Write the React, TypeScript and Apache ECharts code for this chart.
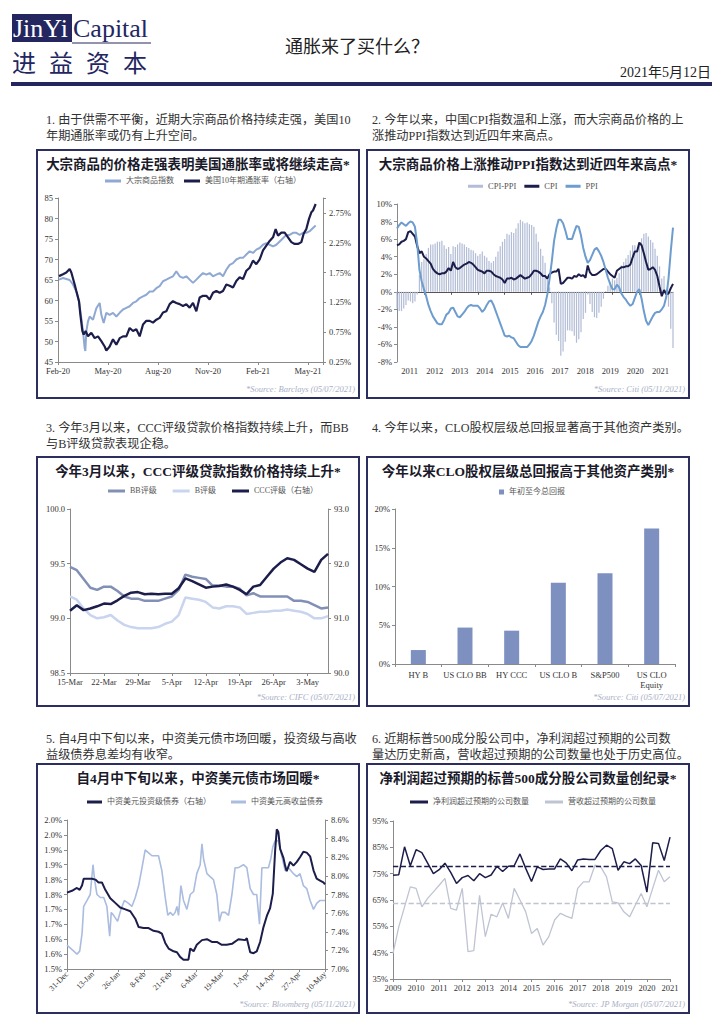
import React, { useEffect, useRef } from 'react';
import * as echarts from 'echarts';

const SERIF = '"Liberation Serif", "Noto Sans CJK SC", serif';
const NAVY = '#23265f';
const DARK = '#1c1d4a';
const AXIS = '#8a8a8a';

// ---------- Chart 1: commodity index vs US 10y breakeven ----------
const c1Ticks = ['Feb-20', 'May-20', 'Aug-20', 'Nov-20', 'Feb-21', 'May-21'];
// [months since Feb-2020, value]
const commodityIndex: [number, number][] = [
  [0.06, 65.1], [0.3, 65.5], [0.7, 65.0], [0.9, 63.9], [1.1, 62.2], [1.26, 59.8], [1.4, 55.7], [1.5, 52.5], [1.6, 48.4], [1.64, 47.7],
  [1.7, 52.5], [1.8, 54.9], [1.9, 56.1], [2.1, 55.3], [2.3, 58.1], [2.5, 59.4], [2.6, 56.5], [2.74, 54.5], [2.9, 57.0], [3.1, 56.5],
  [3.3, 57.0], [3.5, 56.1], [3.7, 57.0], [3.9, 57.8], [4.1, 58.2], [4.3, 58.6], [4.5, 59.4], [4.7, 59.8], [4.9, 60.6], [5.1, 61.0],
  [5.3, 61.4], [5.5, 62.2], [5.7, 62.2], [5.9, 63.0], [6.1, 63.5], [6.3, 64.7], [6.5, 65.1], [6.7, 65.5], [6.9, 65.9], [7.1, 67.1],
  [7.3, 65.9], [7.5, 65.5], [7.7, 65.9], [7.9, 65.1], [8.1, 64.3], [8.3, 65.1], [8.5, 65.9], [8.7, 66.7], [8.9, 66.3], [9.1, 66.7],
  [9.3, 65.9], [9.5, 66.3], [9.7, 66.7], [9.9, 65.9], [10.1, 67.5], [10.3, 68.7], [10.5, 69.1], [10.7, 70.0], [10.9, 70.4], [11.1, 70.4],
  [11.3, 71.2], [11.5, 72.0], [11.7, 71.6], [11.9, 72.4], [12.1, 72.8], [12.3, 73.6], [12.5, 74.0], [12.7, 73.6], [12.9, 73.2], [13.1, 73.6],
  [13.3, 74.4], [13.5, 75.2], [13.7, 76.0], [13.9, 76.0], [14.1, 76.5], [14.3, 76.5], [14.5, 76.0], [14.7, 76.5], [14.9, 76.5], [15.1, 76.9],
  [15.3, 77.7], [15.46, 78.3],
];
const breakeven10y: [number, number][] = [
  [0.06, 1.69], [0.3, 1.72], [0.5, 1.75], [0.7, 1.81], [0.8, 1.75], [1.0, 1.55], [1.1, 1.44], [1.26, 1.27], [1.34, 1.05], [1.46, 0.77],
  [1.54, 0.71], [1.66, 0.77], [1.8, 0.68], [2.0, 0.74], [2.2, 0.65], [2.4, 0.68], [2.6, 0.60], [2.8, 0.51], [2.9, 0.44], [3.1, 0.51],
  [3.3, 0.63], [3.5, 0.54], [3.7, 0.65], [3.9, 0.68], [4.1, 0.68], [4.3, 0.82], [4.5, 0.77], [4.7, 0.80], [4.9, 0.68], [5.1, 0.88],
  [5.3, 0.94], [5.5, 0.94], [5.7, 0.91], [5.9, 0.96], [6.1, 0.99], [6.3, 1.08], [6.5, 1.10], [6.7, 1.22], [6.9, 1.27], [7.1, 1.24],
  [7.3, 1.22], [7.5, 1.19], [7.7, 1.22], [7.9, 1.16], [8.1, 1.24], [8.3, 1.10], [8.5, 1.33], [8.7, 1.36], [8.9, 1.36], [9.1, 1.30],
  [9.3, 1.41], [9.5, 1.44], [9.7, 1.41], [9.9, 1.44], [10.1, 1.55], [10.3, 1.53], [10.5, 1.50], [10.7, 1.61], [10.9, 1.67], [11.1, 1.64],
  [11.3, 1.78], [11.5, 1.83], [11.7, 1.95], [11.9, 1.89], [12.1, 1.97], [12.3, 2.12], [12.5, 2.20], [12.7, 2.28], [12.9, 2.34], [13.06, 2.48],
  [13.2, 2.37], [13.4, 2.42], [13.6, 2.42], [13.8, 2.34], [14.0, 2.26], [14.2, 2.23], [14.4, 2.23], [14.6, 2.26], [14.74, 2.40], [14.9, 2.48],
  [15.06, 2.65], [15.2, 2.76], [15.3, 2.79], [15.46, 2.90],
];

// ---------- Chart 2: China CPI / PPI (Jan-2011 .. Apr-2021) ----------
const c2Years = ['2011', '2012', '2013', '2014', '2015', '2016', '2017', '2018', '2019', '2020', '2021'];
const cpi = [
  5.3, 5.4, 5.7, 5.8, 6.0, 6.8, 6.9, 6.6, 6.3, 5.2, 4.4, 4.6,
  4.0, 3.8, 3.5, 3.2, 2.6, 2.3, 2.1, 2.0, 2.1, 2.1, 2.3, 2.7,
  2.4, 3.4, 2.8, 2.6, 2.7, 2.9, 3.1, 3.2, 3.4, 3.3, 3.1, 2.8,
  2.5, 2.4, 2.3, 2.1, 2.4, 2.4, 2.3, 2.0, 1.8, 1.7, 1.6, 1.4,
  1.0, 1.5, 1.5, 1.6, 1.4, 1.5, 1.7, 1.9, 1.7, 1.5, 1.6, 1.7,
  2.0, 2.4, 2.4, 2.3, 2.1, 1.8, 1.8, 1.5, 2.0, 2.2, 2.3, 2.3,
  2.6, 0.9, 1.0, 1.3, 1.6, 1.6, 1.5, 1.8, 1.7, 2.0, 1.8, 1.9,
  1.6, 3.0, 2.2, 1.9, 1.9, 2.0, 2.2, 2.4, 2.6, 2.6, 2.3, 2.0,
  1.8, 1.6, 2.4, 2.6, 2.8, 2.8, 2.9, 2.9, 3.1, 3.9, 4.6, 4.6,
  5.6, 5.3, 4.4, 3.4, 2.5, 2.6, 2.8, 2.5, 1.8, 0.6, -0.5, 0.2,
  -0.3, -0.2, 0.4, 0.9,
];
const ppi = [
  7.2, 7.6, 7.9, 7.7, 7.5, 7.8, 8.0, 7.9, 7.4, 5.5, 2.5, 1.2,
  0.3, -0.5, -1.5, -2.2, -2.8, -3.2, -3.6, -3.7, -3.7, -3.2, -2.6, -2.4,
  -1.9, -1.8, -2.3, -2.8, -2.9, -2.6, -2.3, -1.9, -1.6, -1.5, -1.6, -1.6,
  -1.6, -1.9, -2.3, -2.0, -1.5, -1.1, -1.0, -1.5, -2.2, -2.9, -3.6, -4.3,
  -5.0, -5.1, -5.0, -5.2, -5.3, -5.7, -6.1, -6.3, -6.3, -6.3, -6.3, -6.0,
  -5.6, -5.0, -4.2, -3.4, -2.8, -2.3, -1.5, -0.3, 1.5, 3.5, 5.8, 7.2,
  8.2, 8.2, 7.8, 7.0, 6.0, 6.0, 6.0, 6.8, 7.5, 7.4, 6.4, 5.0,
  4.0, 3.3, 3.6, 4.2, 4.8, 5.0, 4.6, 4.1, 3.4, 2.5, 1.6, 0.9,
  0.3, 0.3, 0.8, 0.5, -0.2, -0.6, -0.9, -1.3, -1.6, -1.4, -0.7, 0.0,
  0.3, -0.8, -2.2, -3.3, -3.8, -3.3, -2.8, -2.4, -2.3, -2.3, -2.0, -1.6,
  -0.6, 1.5, 4.6, 7.3,
];

// ---------- Chart 3: loan price indices ----------
const c3Dates = [
  '15-Mar', '16-Mar', '17-Mar', '18-Mar', '19-Mar', '22-Mar', '23-Mar', '24-Mar', '25-Mar', '26-Mar',
  '29-Mar', '30-Mar', '31-Mar', '1-Apr', '2-Apr', '5-Apr', '6-Apr', '7-Apr', '8-Apr', '9-Apr',
  '12-Apr', '13-Apr', '14-Apr', '15-Apr', '16-Apr', '19-Apr', '20-Apr', '21-Apr', '22-Apr', '23-Apr',
  '26-Apr', '27-Apr', '28-Apr', '29-Apr', '30-Apr', '3-May', '4-May', '5-May', '6-May',
];
const bbLoans = [
  99.47, 99.44, 99.36, 99.28, 99.26, 99.29, 99.29, 99.25, 99.20, 99.18,
  99.18, 99.16, 99.16, 99.16, 99.18, 99.20, 99.26, 99.40, 99.38, 99.37,
  99.36, 99.30, 99.30, 99.29, 99.29, 99.27, 99.21, 99.23, 99.20, 99.20,
  99.20, 99.20, 99.20, 99.16, 99.16, 99.15, 99.12, 99.09, 99.10,
];
const bLoans = [
  99.20, 99.17, 99.09, 99.03, 99.00, 99.01, 99.03, 98.98, 98.94, 98.92,
  98.91, 98.91, 98.91, 98.92, 98.95, 98.97, 99.03, 99.19, 99.18, 99.17,
  99.15, 99.10, 99.09, 99.11, 99.11, 99.10, 99.04, 99.05, 99.06, 99.06,
  99.07, 99.07, 99.08, 99.07, 99.06, 99.04, 99.00, 99.00, 99.02,
];
const cccLoans = [
  91.14, 91.24, 91.15, 91.18, 91.22, 91.27, 91.26, 91.33, 91.41, 91.47,
  91.48, 91.44, 91.45, 91.44, 91.45, 91.45, 91.55, 91.73, 91.68, 91.62,
  91.56, 91.58, 91.59, 91.62, 91.58, 91.52, 91.44, 91.58, 91.61, 91.76,
  91.91, 92.02, 92.10, 92.07, 91.99, 91.91, 91.85, 92.07, 92.18,
];

// ---------- Chart 4: YTD total returns ----------
const c4Assets = ['HY B', 'US CLO BB', 'HY CCC', 'US CLO B', 'S&P500', 'US CLO\nEquity'];
const c4Returns = [1.8, 4.7, 4.3, 10.5, 11.7, 17.5];

// ---------- Chart 5: China USD bonds ----------
const c5Ticks = ['31-Dec', '13-Jan', '26-Jan', '8-Feb', '21-Feb', '6-Mar', '19-Mar', '1-Apr', '14-Apr', '27-Apr', '10-May'];
const c5LeftTicks = ['1.5%', '1.6%', '1.6%', '1.7%', '1.7%', '1.8%', '1.8%', '1.9%', '1.9%', '2.0%', '2.0%'];
// [days since 31-Dec-2020, value]
const igBonds: [number, number][] = [
  [0, 7.82], [2.5, 7.84], [5.0, 7.87], [6.4, 7.85], [7.6, 7.90], [8.4, 7.97], [10.1, 7.97], [12.6, 7.97], [14.3, 7.96], [15.9, 7.93],
  [17.6, 7.93], [19.3, 7.85], [21.8, 7.76], [24.3, 7.71], [26.8, 7.66], [29.4, 7.64], [31.9, 7.62], [34.4, 7.54], [36.1, 7.45], [38.6, 7.44],
  [41.1, 7.44], [43.6, 7.41], [46.1, 7.40], [47.8, 7.38], [49.5, 7.28], [51.2, 7.22], [53.7, 7.19], [55.4, 7.18], [57.0, 7.13], [58.7, 7.10],
  [61.2, 7.10], [62.1, 7.22], [63.8, 7.19], [65.4, 7.26], [68.0, 7.31], [70.5, 7.32], [73.0, 7.29], [75.5, 7.29], [78.0, 7.26], [80.5, 7.26],
  [83.1, 7.27], [86.4, 7.32], [89.8, 7.31], [90.6, 7.33], [92.3, 7.18], [94.0, 7.17], [95.6, 7.19], [97.3, 7.29], [99.0, 7.45], [100.7, 7.57],
  [102.3, 7.65], [103.7, 7.81], [104.9, 8.28], [105.7, 8.50], [106.5, 8.47], [107.4, 8.29], [109.1, 8.19], [109.9, 8.11], [110.7, 8.05], [112.4, 8.15],
  [114.1, 8.11], [115.8, 8.15], [117.4, 8.20], [119.1, 8.26], [120.8, 8.25], [122.5, 8.21], [124.2, 8.06], [125.8, 7.97], [127.5, 7.95], [129.2, 7.93],
  [130, 7.91],
];
const hyBonds: [number, number][] = [
  [0, 1.58], [1.7, 1.57], [3.4, 1.56], [5.0, 1.55], [6.4, 1.56], [7.6, 1.62], [8.4, 1.71], [10.1, 1.73], [11.7, 1.75], [13.1, 1.85],
  [13.9, 1.80], [15.1, 1.75], [16.8, 1.74], [18.5, 1.74], [20.1, 1.71], [21.5, 1.61], [22.3, 1.69], [23.5, 1.68], [25.5, 1.66], [27.2, 1.70],
  [28.9, 1.73], [31.0, 1.72], [32.7, 1.71], [34.4, 1.74], [36.1, 1.78], [37.8, 1.84], [39.4, 1.90], [41.1, 1.89], [42.8, 1.88], [44.5, 1.88],
  [46.1, 1.88], [47.8, 1.83], [49.5, 1.74], [50.8, 1.68], [52.0, 1.69], [53.4, 1.68], [54.5, 1.69], [55.4, 1.71], [56.2, 1.68], [57.4, 1.78],
  [58.7, 1.73], [60.4, 1.70], [62.1, 1.75], [63.8, 1.76], [65.4, 1.82], [67.1, 1.85], [68.0, 1.92], [68.8, 1.87], [70.5, 1.82], [72.1, 1.81],
  [73.8, 1.80], [75.5, 1.75], [76.8, 1.66], [78.0, 1.69], [79.7, 1.69], [81.4, 1.68], [83.1, 1.75], [84.7, 1.84], [86.4, 1.84], [88.9, 1.85],
  [90.6, 1.84], [92.3, 1.77], [94.0, 1.75], [95.6, 1.75], [97.0, 1.65], [98.2, 1.84], [99.8, 1.84], [101.5, 1.84], [102.7, 1.87], [103.7, 1.91],
  [104.9, 1.93], [106.5, 1.93], [108.2, 1.88], [109.9, 1.83], [111.6, 1.84], [114.1, 1.82], [115.8, 1.81], [117.4, 1.82], [119.1, 1.78], [120.8, 1.77],
  [122.5, 1.73], [124.2, 1.70], [125.8, 1.72], [127.5, 1.73], [130, 1.73],
];

// ---------- Chart 6: S&P 500 beats (quarterly 2009Q1 .. 2021Q1) ----------
const c6Years = ['2009', '2010', '2011', '2012', '2013', '2014', '2015', '2016', '2017', '2018', '2019', '2020', '2021'];
const earningsBeat = [
  74.4, 74.6, 85.2, 78.0, 84.1, 83.0, 79.0, 75.0, 76.5, 79.0,
  75.5, 71.3, 73.5, 74.3, 72.3, 75.0, 73.5, 74.5, 77.8, 75.8,
  77.8, 78.0, 82.5, 77.0, 72.0, 77.6, 76.6, 76.8, 76.8, 80.6,
  79.1, 76.1, 80.2, 80.6, 80.4, 80.4, 83.8, 85.8, 84.5, 76.3,
  79.5, 78.8, 80.6, 78.1, 68.0, 86.7, 86.5, 80.0, 88.9,
];
const revenueBeat = [
  44.7, 54.8, 62.4, 70.0, 69.4, 62.4, 65.6, 68.1, 70.6, 73.2,
  61.8, 61.2, 69.4, 45.4, 45.8, 66.8, 51.1, 59.6, 58.6, 63.9,
  58.0, 69.4, 65.0, 60.5, 52.3, 54.2, 47.9, 51.1, 57.4, 59.9,
  58.9, 58.0, 69.4, 71.9, 71.9, 78.2, 77.6, 73.8, 64.3, 63.9,
  60.5, 58.6, 63.1, 67.5, 62.4, 69.4, 76.3, 71.9, 73.8,
];
const beatAverages = [77.8, 63.9];

// ---------- page texts ----------
const paragraphs: { x: number; y: number; lines: string[] }[] = [
  { x: 46, y: 120, lines: ['1. 由于供需不平衡，近期大宗商品价格持续走强，美国10', '年期通胀率或仍有上升空间。'] },
  { x: 372, y: 120, lines: ['2. 今年以来，中国CPI指数温和上涨，而大宗商品价格的上', '涨推动PPI指数达到近四年来高点。'] },
  { x: 46, y: 428, lines: ['3. 今年3月以来，CCC评级贷款价格指数持续上升，而BB', '与B评级贷款表现企稳。'] },
  { x: 372, y: 428, lines: ['4. 今年以来，CLO股权层级总回报显著高于其他资产类别。'] },
  { x: 46, y: 739, lines: ['5. 自4月中下旬以来，中资美元债市场回暖，投资级与高收', '益级债券息差均有收窄。'] },
  { x: 372, y: 739, lines: ['6. 近期标普500成分股公司中，净利润超过预期的公司数', '量达历史新高，营收超过预期的公司数量也处于历史高位。'] },
];
const boxes = [
  { x: 37, y: 150, w: 322, h: 248, title: '大宗商品的价格走强表明美国通胀率或将继续走高*', source: '*Source: Barclays (05/07/2021)' },
  { x: 367, y: 150, w: 322, h: 248, title: '大宗商品价格上涨推动PPI指数达到近四年来高点*', source: '*Source: Citi (05/11/2021)' },
  { x: 37, y: 457, w: 322, h: 249, title: '今年3月以来，CCC评级贷款指数价格持续上升*', source: '*Source: CIFC (05/07/2021)' },
  { x: 367, y: 457, w: 322, h: 249, title: '今年以来CLO股权层级总回报高于其他资产类别*', source: '*Source: Citi (05/07/2021)' },
  { x: 37, y: 764, w: 322, h: 249, title: '自4月中下旬以来，中资美元债市场回暖*', source: '*Source: Bloomberg (05/11/2021)' },
  { x: 367, y: 764, w: 322, h: 249, title: '净利润超过预期的标普500成分股公司数量创纪录*', source: '*Source: JP Morgan (05/07/2021)' },
];

function txt(x: number, y: number, text: string, o: any = {}) {
  return {
    type: 'text',
    x,
    y,
    silent: true,
    style: {
      text,
      fontSize: o.size ?? 12,
      fontFamily: o.family ?? SERIF,
      fontWeight: o.weight ?? 'normal',
      fontStyle: o.style ?? 'normal',
      fill: o.fill ?? '#333',
      align: o.align ?? 'left',
      verticalAlign: 'middle',
      textAlign: o.align ?? 'left',
      textVerticalAlign: 'middle',
    },
  };
}

const axisLine = { show: true, lineStyle: { color: AXIS, width: 1 } };
const axisTick = { show: true, length: 3, lineStyle: { color: AXIS } };
const lbl = (extra: any = {}) => ({ color: '#333', fontSize: 8.5, fontFamily: SERIF, ...extra });
const legendText = { fontSize: 8, color: '#555', fontFamily: SERIF };

function buildOption() {
  const months: string[] = [];
  c2Years.forEach((y) => {
    for (let m = 1; m <= 12; m++) months.push(`${y}-${m}`);
  });
  const monthCats = months.slice(0, cpi.length);
  const spread = cpi.map((v, i) => Math.round((v - ppi[i]) * 10) / 10);
  const quarters: string[] = [];
  c6Years.forEach((y) => {
    for (let q = 1; q <= 4; q++) quarters.push(`${y}Q${q}`);
  });
  const quarterCats = quarters.slice(0, earningsBeat.length);

  const graphics: any[] = [];
  // logo
  graphics.push({ type: 'rect', silent: true, shape: { x: 12, y: 14, width: 60, height: 28 }, style: { fill: NAVY } });
  graphics.push(txt(13, 28, 'JinYi', { size: 26, family: '"Liberation Serif", serif', fill: '#fff' }));
  graphics.push(txt(73, 28, 'Capital', { size: 26, family: '"Liberation Serif", serif', fill: NAVY }));
  graphics.push({ type: 'line', silent: true, shape: { x1: 72, y1: 43, x2: 151, y2: 43 }, style: { stroke: NAVY, lineWidth: 1 } });
  ['进', '益', '资', '本'].forEach((ch, i) =>
    graphics.push(txt(12 + i * 37, 61, ch, { size: 24, family: '"Noto Sans CJK SC", sans-serif', fill: NAVY }))
  );
  graphics.push(txt(357, 47, '通胀来了买什么？', { size: 18, align: 'center', fill: '#222' }));
  graphics.push(txt(711, 72, '2021年5月12日', { size: 14, align: 'right', fill: '#222' }));
  graphics.push({ type: 'rect', silent: true, shape: { x: 11, y: 82, width: 701, height: 4 }, style: { fill: NAVY } });

  paragraphs.forEach((p) =>
    p.lines.forEach((l, i) => graphics.push(txt(p.x, p.y + i * 16, l, { size: 12.2, fill: '#333' })))
  );
  boxes.forEach((b) => {
    graphics.push({
      type: 'rect',
      silent: true,
      shape: { x: b.x, y: b.y, width: b.w, height: b.h },
      style: { fill: 'none', stroke: '#2b2e5e', lineWidth: 2 },
    });
    graphics.push(txt(b.x + b.w / 2, b.y + 14, b.title, { size: 13.5, weight: 'bold', align: 'center', fill: '#1a1a2a' }));
    graphics.push(txt(b.x + b.w - 4, b.y + b.h - 9, b.source, { size: 8.5, style: 'italic', align: 'right', fill: '#a9afc6' }));
  });

  const lineSeries = (name: string, data: any, xi: number, yi: number, color: string, width = 2, extra: any = {}) => ({
    name,
    type: 'line',
    xAxisIndex: xi,
    yAxisIndex: yi,
    data,
    showSymbol: false,
    symbol: 'none',
    silent: true,
    lineStyle: { color, width },
    itemStyle: { color },
    ...extra,
  });

  return {
    animation: false,
    backgroundColor: '#fff',
    textStyle: { fontFamily: SERIF },
    graphic: graphics,
    grid: [
      { left: 58, top: 198, width: 265, height: 164 },
      { left: 397, top: 204, width: 276, height: 158 },
      { left: 70, top: 509, width: 258, height: 164 },
      { left: 395, top: 509, width: 280, height: 155 },
      { left: 67, top: 820, width: 258, height: 149 },
      { left: 393, top: 821, width: 277, height: 158 },
    ],
    legend: [
      { data: ['大宗商品指数', '美国10年期通胀率（右轴）'], left: 105, top: 177, padding: 0, itemWidth: 16, itemHeight: 3, itemGap: 10, icon: 'rect', selectedMode: false, textStyle: legendText },
      { data: ['CPI-PPI', 'CPI', 'PPI'], left: 468, top: 182, padding: 0, itemWidth: 15, itemHeight: 3, itemGap: 8, icon: 'rect', selectedMode: false, textStyle: { ...legendText, fontSize: 8.5 } },
      { data: ['BB评级', 'B评级', 'CCC评级（右轴）'], left: 108, top: 487, padding: 0, itemWidth: 17, itemHeight: 3, itemGap: 16, icon: 'rect', selectedMode: false, textStyle: legendText },
      { data: ['年初至今总回报'], left: 499, top: 488, padding: 0, itemWidth: 5, itemHeight: 5, icon: 'rect', selectedMode: false, textStyle: legendText },
      { data: ['中资美元投资级债券（右轴）', '中资美元高收益债券'], left: 87, top: 798, padding: 0, itemWidth: 15, itemHeight: 3, itemGap: 20, icon: 'rect', selectedMode: false, textStyle: legendText },
      { data: ['净利润超过预期的公司数量', '营收超过预期的公司数量'], left: 410, top: 798, padding: 0, itemWidth: 18, itemHeight: 3, itemGap: 16, icon: 'rect', selectedMode: false, textStyle: legendText },
    ],
    xAxis: [
      {
        gridIndex: 0, type: 'value', min: 0, max: 15.9, interval: 3, splitLine: { show: false },
        axisLine, axisTick,
        axisLabel: lbl({ margin: 5, formatter: (v: number) => { const i = v / 3; return Math.abs(i - Math.round(i)) < 1e-6 ? c1Ticks[Math.round(i)] ?? '' : ''; } }),
      },
      {
        gridIndex: 1, type: 'category', data: monthCats, boundaryGap: false, position: 'bottom',
        axisLine: { show: true, onZero: true, lineStyle: { color: '#555', width: 1 } },
        axisTick: { show: true, interval: 11, length: 3, lineStyle: { color: '#555' } },
        axisLabel: { show: false }, splitLine: { show: false },
      },
      {
        gridIndex: 1, type: 'category', data: c2Years, boundaryGap: true, position: 'bottom',
        axisLine: { show: false, onZero: false }, axisTick: { show: false },
        axisLabel: lbl({ margin: 5, interval: 0 }), splitLine: { show: false },
      },
      {
        gridIndex: 2, type: 'category', data: c3Dates, boundaryGap: false,
        axisLine, axisTick: { ...axisTick, interval: 4 },
        axisLabel: lbl({ margin: 5, interval: 4 }), splitLine: { show: false },
      },
      {
        gridIndex: 3, type: 'category', data: c4Assets, boundaryGap: true,
        axisLine, axisTick,
        axisLabel: lbl({ margin: 6, interval: 0, lineHeight: 10 }), splitLine: { show: false },
      },
      {
        gridIndex: 4, type: 'value', min: 0, max: 130, interval: 13, splitLine: { show: false },
        axisLine, axisTick,
        axisLabel: lbl({ margin: 4, rotate: 45, fontSize: 8, formatter: (v: number) => c5Ticks[Math.round(v / 13)] ?? '' }),
      },
      {
        gridIndex: 5, type: 'category', data: quarterCats, boundaryGap: false,
        axisLine, axisTick: { ...axisTick, interval: 3 },
        axisLabel: lbl({ margin: 5, interval: 3, formatter: (v: string) => v.slice(0, 4) }), splitLine: { show: false },
      },
    ],
    yAxis: [
      { gridIndex: 0, type: 'value', min: 45, max: 85, interval: 5, splitLine: { show: false }, axisLine, axisTick, axisLabel: lbl({ margin: 5 }) },
      {
        gridIndex: 0, type: 'value', position: 'right', min: 0.25, max: 3.0, interval: 0.5, splitLine: { show: false }, axisLine, axisTick,
        axisLabel: lbl({ margin: 6, formatter: (v: number) => (v > 2.9 ? '' : v.toFixed(2) + '%') }),
      },
      { gridIndex: 1, type: 'value', min: -8, max: 10, interval: 2, splitLine: { show: false }, axisLine, axisTick, axisLabel: lbl({ margin: 5, formatter: (v: number) => v + '%' }) },
      { gridIndex: 2, type: 'value', min: 98.5, max: 100, interval: 0.5, splitLine: { show: false }, axisLine, axisTick, axisLabel: lbl({ margin: 5, formatter: (v: number) => v.toFixed(1) }) },
      { gridIndex: 2, type: 'value', position: 'right', min: 90, max: 93, interval: 1, splitLine: { show: false }, axisLine, axisTick, axisLabel: lbl({ margin: 6, formatter: (v: number) => v.toFixed(1) }) },
      { gridIndex: 3, type: 'value', min: 0, max: 20, interval: 5, splitLine: { show: false }, axisLine, axisTick, axisLabel: lbl({ margin: 5, formatter: (v: number) => v + '%' }) },
      {
        gridIndex: 4, type: 'value', min: 1.5, max: 2.0, interval: 0.05, splitLine: { show: false }, axisLine, axisTick,
        axisLabel: lbl({ margin: 5, formatter: (v: number) => c5LeftTicks[Math.round((v - 1.5) / 0.05)] ?? '' }),
      },
      {
        gridIndex: 4, type: 'value', position: 'right', min: 7.0, max: 8.6, interval: 0.2, splitLine: { show: false }, axisLine, axisTick,
        axisLabel: lbl({ margin: 6, formatter: (v: number) => v.toFixed(1) + '%' }),
      },
      { gridIndex: 5, type: 'value', min: 35, max: 95, interval: 10, splitLine: { show: false }, axisLine, axisTick, axisLabel: lbl({ margin: 5, formatter: (v: number) => v + '%' }) },
    ],
    series: [
      lineSeries('大宗商品指数', commodityIndex, 0, 0, '#8fa9d3', 2),
      lineSeries('美国10年期通胀率（右轴）', breakeven10y, 0, 1, DARK, 2.2),

      { name: 'CPI-PPI', type: 'bar', xAxisIndex: 1, yAxisIndex: 2, data: spread, barCategoryGap: '45%', silent: true, itemStyle: { color: '#b3bdd6' } },
      lineSeries('CPI', cpi, 1, 2, DARK, 2),
      lineSeries('PPI', ppi, 1, 2, '#6d9cce', 2),

      lineSeries('BB评级', bbLoans, 3, 3, '#8390b6', 2.5),
      lineSeries('B评级', bLoans, 3, 3, '#c9d4ee', 2.5),
      lineSeries('CCC评级（右轴）', cccLoans, 3, 4, DARK, 2.5),

      { name: '年初至今总回报', type: 'bar', xAxisIndex: 4, yAxisIndex: 5, data: c4Returns, barWidth: 15, silent: true, itemStyle: { color: '#7d90c0' } },

      lineSeries('中资美元投资级债券（右轴）', igBonds, 5, 7, DARK, 2, { z: 3 }),
      lineSeries('中资美元高收益债券', hyBonds, 5, 6, '#aabcdf', 1.6, { z: 2 }),

      lineSeries('净利润超过预期的公司数量', earningsBeat, 6, 8, DARK, 1.5, {
        z: 3,
        markLine: { silent: true, symbol: 'none', label: { show: false }, lineStyle: { color: DARK, type: 'dashed', width: 1.3 }, data: [{ yAxis: beatAverages[0] }] },
      }),
      lineSeries('营收超过预期的公司数量', revenueBeat, 6, 8, '#bfc4d2', 1.3, {
        z: 2,
        markLine: { silent: true, symbol: 'none', label: { show: false }, lineStyle: { color: '#bfc4d2', type: 'dashed', width: 1.3 }, data: [{ yAxis: beatAverages[1] }] },
      }),
    ],
  };
}

export default function App() {
  const ref = useRef<HTMLDivElement>(null);
  useEffect(() => {
    if (!ref.current) return;
    const chart = echarts.init(ref.current, null, { renderer: 'svg' });
    chart.setOption(buildOption() as any);
    return () => chart.dispose();
  }, []);
  return (
    <div
      ref={ref}
      style={{ position: 'absolute', left: 0, top: 0, width: 724, height: 1024, background: '#fff' }}
    />
  );
}
